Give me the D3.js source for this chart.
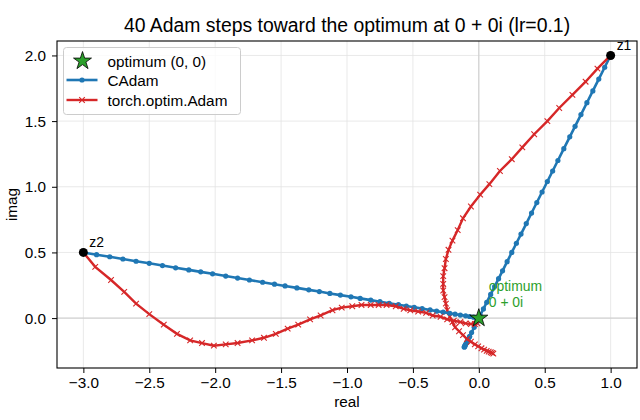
<!DOCTYPE html>
<html lang="en">
<head>
    <meta charset="UTF-8">
    <title>Adam steps</title>
    <script src="https://d3js.org/d3.v7.min.js"></script>
    <style>
        body { margin: 0; background: #fff; }
        svg text { font-family: "Liberation Sans", Arial, sans-serif; }
    </style>
</head>
<body>
    <div class="chart"></div>
    <script>
        // trajectories, [real, imag] per step (41 points = start + 40 steps)
        const cadamFromZ1 = [
            [1.00, 2.00], [0.955, 1.91], [0.91, 1.82], [0.865, 1.73], [0.82, 1.64], [0.775, 1.55],
            [0.73, 1.46], [0.69, 1.38], [0.645, 1.29], [0.60, 1.20], [0.56, 1.12], [0.52, 1.04],
            [0.48, 0.96], [0.44, 0.88], [0.40, 0.80], [0.36, 0.72], [0.32, 0.64], [0.285, 0.57],
            [0.25, 0.50], [0.215, 0.43], [0.18, 0.36], [0.15, 0.30], [0.12, 0.24], [0.09, 0.18],
            [0.06, 0.12], [0.035, 0.07], [0.01, 0.02], [-0.015, -0.03], [-0.035, -0.07], [-0.055, -0.11],
            [-0.07, -0.14], [-0.085, -0.17], [-0.095, -0.19], [-0.105, -0.21], [-0.11, -0.22], [-0.11, -0.22],
            [-0.105, -0.21], [-0.10, -0.20], [-0.09, -0.18], [-0.08, -0.16], [-0.07, -0.14]
        ];
        const cadamFromZ2 = [
            [-3.00, 0.50], [-2.90, 0.483], [-2.80, 0.467], [-2.70, 0.45], [-2.60, 0.433], [-2.50, 0.417],
            [-2.40, 0.40], [-2.30, 0.383], [-2.20, 0.367], [-2.11, 0.352], [-2.02, 0.337], [-1.92, 0.32],
            [-1.83, 0.305], [-1.74, 0.29], [-1.64, 0.273], [-1.55, 0.258], [-1.47, 0.245], [-1.38, 0.23],
            [-1.29, 0.215], [-1.21, 0.202], [-1.13, 0.188], [-1.05, 0.175], [-0.97, 0.162], [-0.90, 0.15],
            [-0.82, 0.137], [-0.75, 0.125], [-0.68, 0.113], [-0.61, 0.102], [-0.55, 0.092], [-0.49, 0.082],
            [-0.43, 0.072], [-0.37, 0.062], [-0.32, 0.053], [-0.27, 0.045], [-0.22, 0.037], [-0.18, 0.03],
            [-0.14, 0.023], [-0.10, 0.017], [-0.07, 0.012], [-0.04, 0.007], [-0.02, 0.003]
        ];
        const adamFromZ1 = [
            [1.00, 2.00], [0.90, 1.90], [0.81, 1.80], [0.71, 1.70], [0.61, 1.60], [0.52, 1.50],
            [0.42, 1.40], [0.33, 1.30], [0.25, 1.21], [0.16, 1.12], [0.08, 1.02], [0.01, 0.94],
            [-0.06, 0.85], [-0.12, 0.76], [-0.16, 0.67], [-0.20, 0.59], [-0.23, 0.52], [-0.25, 0.45],
            [-0.26, 0.38], [-0.27, 0.32], [-0.27, 0.26], [-0.27, 0.21], [-0.26, 0.16], [-0.25, 0.11],
            [-0.24, 0.06], [-0.22, 0.01], [-0.20, -0.03], [-0.18, -0.07], [-0.15, -0.10], [-0.12, -0.13],
            [-0.09, -0.16], [-0.06, -0.18], [-0.03, -0.20], [-0.005, -0.215], [0.02, -0.23], [0.04, -0.24],
            [0.06, -0.25], [0.075, -0.255], [0.09, -0.26], [0.10, -0.265], [0.11, -0.27]
        ];
        const adamFromZ2 = [
            [-3.00, 0.50], [-2.91, 0.39], [-2.79, 0.29], [-2.69, 0.20], [-2.60, 0.11], [-2.50, 0.03],
            [-2.39, -0.05], [-2.29, -0.12], [-2.19, -0.17], [-2.10, -0.19], [-2.01, -0.21], [-1.92, -0.20],
            [-1.83, -0.19], [-1.72, -0.17], [-1.63, -0.15], [-1.54, -0.12], [-1.45, -0.08], [-1.37, -0.05],
            [-1.28, -0.01], [-1.20, 0.02], [-1.11, 0.06], [-1.04, 0.08], [-0.96, 0.09], [-0.89, 0.10],
            [-0.82, 0.10], [-0.76, 0.10], [-0.70, 0.10], [-0.63, 0.09], [-0.57, 0.07], [-0.52, 0.06],
            [-0.46, 0.05], [-0.40, 0.04], [-0.35, 0.02], [-0.29, 0.01], [-0.24, -0.01], [-0.19, -0.02],
            [-0.14, -0.03], [-0.10, -0.04], [-0.06, -0.045], [-0.03, -0.045], [-0.01, -0.04]
        ];
        const startPoints = [{ label: "z1", re: 1, im: 2 }, { label: "z2", re: -3, im: 0.5 }];
        const optimum = [0, 0];
        const xTicks = [-3.0, -2.5, -2.0, -1.5, -1.0, -0.5, 0.0, 0.5, 1.0];
        const yTicks = [0.0, 0.5, 1.0, 1.5, 2.0];
        const legendLabels = ["optimum (0, 0)", "CAdam", "torch.optim.Adam"];

        const width = 640;
        const height = 420;
        const margin = { top: 41, right: 3, bottom: 52, left: 57 };
        const blue = "#1f77b4", red = "#d62728", green = "#2ca02c";
        const fs = 15.3;

        const xScale = d3.scaleLinear()
            .domain([-3.2, 1.2])
            .range([margin.left, width - margin.right]);
        const yScale = d3.scaleLinear()
            .domain([-0.38, 2.11])
            .range([height - margin.bottom, margin.top]);

        const svg = d3.select('.chart')
            .append('svg')
            .attr('width', width)
            .attr('height', height);

        const fmt = d => d3.format(".1f")(d).replace("-", "\u2212");

        // grid
        svg.append('g').selectAll('line').data(xTicks).join('line')
            .attr('x1', d => xScale(d)).attr('x2', d => xScale(d))
            .attr('y1', margin.top).attr('y2', height - margin.bottom)
            .attr('stroke', '#e3e3e3').attr('stroke-width', 0.8);
        svg.append('g').selectAll('line').data(yTicks).join('line')
            .attr('x1', margin.left).attr('x2', width - margin.right)
            .attr('y1', d => yScale(d)).attr('y2', d => yScale(d))
            .attr('stroke', '#e3e3e3').attr('stroke-width', 0.8);
        // zero lines
        svg.append('line')
            .attr('x1', xScale(0)).attr('x2', xScale(0))
            .attr('y1', margin.top).attr('y2', height - margin.bottom)
            .attr('stroke', '#cccccc').attr('stroke-width', 1);
        svg.append('line')
            .attr('x1', margin.left).attr('x2', width - margin.right)
            .attr('y1', yScale(0)).attr('y2', yScale(0))
            .attr('stroke', '#cccccc').attr('stroke-width', 1);

        const line = d3.line().x(d => xScale(d[0])).y(d => yScale(d[1]));
        const plot = svg.append('g');

        function drawCAdam(data) {
            plot.append('path').datum(data)
                .attr('d', line).attr('fill', 'none')
                .attr('stroke', blue).attr('stroke-width', 2.6);
            plot.append('g').selectAll('circle').data(data).join('circle')
                .attr('cx', d => xScale(d[0])).attr('cy', d => yScale(d[1]))
                .attr('r', 2.6).attr('fill', blue);
        }
        function drawAdam(data) {
            plot.append('path').datum(data)
                .attr('d', line).attr('fill', 'none')
                .attr('stroke', red).attr('stroke-width', 2.4);
            plot.append('g').selectAll('path').data(data).join('path')
                .attr('d', d => {
                    const cx = xScale(d[0]), cy = yScale(d[1]), s = 2.8;
                    return `M${cx - s},${cy - s}L${cx + s},${cy + s}M${cx - s},${cy + s}L${cx + s},${cy - s}`;
                })
                .attr('stroke', red).attr('stroke-width', 1.1);
        }
        drawCAdam(cadamFromZ1);
        drawAdam(adamFromZ1);
        drawCAdam(cadamFromZ2);
        drawAdam(adamFromZ2);

        // start points
        svg.selectAll('.start').data(startPoints).join('circle')
            .attr('class', 'start')
            .attr('cx', d => xScale(d.re)).attr('cy', d => yScale(d.im))
            .attr('r', 4.5).attr('fill', 'black');
        svg.selectAll('.startLabel').data(startPoints).join('text')
            .attr('class', 'startLabel')
            .attr('x', d => xScale(d.re) + 6).attr('y', d => yScale(d.im) - 5)
            .attr('font-size', 13.9).text(d => d.label);

        // optimum star
        const star = d3.symbol().type(d3.symbolStar).size(100);
        svg.append('path')
            .attr('d', star)
            .attr('transform', `translate(${xScale(optimum[0])},${yScale(optimum[1])})`)
            .attr('fill', green).attr('stroke', 'black').attr('stroke-width', 0.8);
        const ann = svg.append('text')
            .attr('x', xScale(optimum[0]) + 10)
            .attr('y', yScale(optimum[1]) - 27)
            .attr('fill', green).attr('font-size', 13.9);
        ann.append('tspan').text('optimum');
        ann.append('tspan').attr('x', xScale(optimum[0]) + 10).attr('dy', 16).text('0 + 0i');

        // frame
        svg.append('rect')
            .attr('x', margin.left).attr('y', margin.top)
            .attr('width', width - margin.left - margin.right)
            .attr('height', height - margin.top - margin.bottom)
            .attr('fill', 'none').attr('stroke', 'black').attr('stroke-width', 1.1);

        // axes
        const xAxis = svg.append('g')
            .attr('transform', `translate(0,${height - margin.bottom})`)
            .call(d3.axisBottom(xScale).tickValues(xTicks).tickFormat(fmt).tickSize(5).tickPadding(4));
        const yAxis = svg.append('g')
            .attr('transform', `translate(${margin.left},0)`)
            .call(d3.axisLeft(yScale).tickValues(yTicks).tickFormat(fmt).tickSize(5).tickPadding(6));
        [xAxis, yAxis].forEach(a => {
            a.select('.domain').remove();
            a.selectAll('text').attr('font-size', fs).attr('fill', 'black')
                .style('font-family', '"Liberation Sans", Arial, sans-serif');
            a.selectAll('line').attr('stroke', 'black').attr('stroke-width', 1);
        });

        svg.append('text')
            .attr('x', (margin.left + width - margin.right) / 2).attr('y', 407)
            .attr('text-anchor', 'middle').attr('font-size', fs).text('real');
        svg.append('text')
            .attr('transform', `translate(17,${(margin.top + height - margin.bottom) / 2}) rotate(-90)`)
            .attr('text-anchor', 'middle').attr('font-size', fs).text('imag');
        svg.append('text')
            .attr('x', (margin.left + width - margin.right) / 2).attr('y', 32)
            .attr('text-anchor', 'middle').attr('font-size', 19.4)
            .text('40 Adam steps toward the optimum at 0 + 0i (lr=0.1)');

        // legend
        const lg = svg.append('g').attr('transform', 'translate(63.5,47.5)');
        lg.append('rect')
            .attr('width', 177).attr('height', 67).attr('rx', 3)
            .attr('fill', 'white').attr('fill-opacity', 0.8)
            .attr('stroke', '#cccccc').attr('stroke-width', 1);
        const rowY = [13.5, 32.5, 52.5];
        lg.append('path').attr('d', star)
            .attr('transform', `translate(19,${rowY[0]})`)
            .attr('fill', green).attr('stroke', 'black').attr('stroke-width', 0.8);
        lg.append('line').attr('x1', 3).attr('x2', 34).attr('y1', rowY[1]).attr('y2', rowY[1])
            .attr('stroke', blue).attr('stroke-width', 2.6);
        lg.append('circle').attr('cx', 18.5).attr('cy', rowY[1]).attr('r', 2.6).attr('fill', blue);
        lg.append('line').attr('x1', 3).attr('x2', 34).attr('y1', rowY[2]).attr('y2', rowY[2])
            .attr('stroke', red).attr('stroke-width', 2.4);
        lg.append('path')
            .attr('d', `M15.7,${rowY[2] - 2.8}L21.3,${rowY[2] + 2.8}M15.7,${rowY[2] + 2.8}L21.3,${rowY[2] - 2.8}`)
            .attr('stroke', red).attr('stroke-width', 1.1);
        lg.selectAll('.lt').data(legendLabels).join('text')
            .attr('class', 'lt')
            .attr('x', 44).attr('y', (d, i) => rowY[i] + 5.5)
            .attr('font-size', fs).text(d => d);
    </script>
</body>
</html>
